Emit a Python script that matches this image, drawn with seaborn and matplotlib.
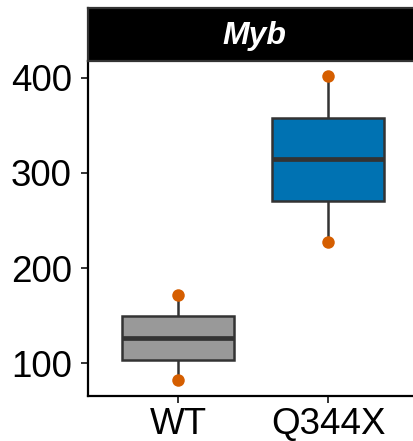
import numpy as np
import pandas as pd
import seaborn as sns
import matplotlib.pyplot as plt

sns.set_theme(style="white")
plt.rcParams['font.family'] = ['Liberation Sans', 'DejaVu Sans']

groups = ["WT", "Q344X"]
# five values per group: min, Q1, median, Q3, max
wt_values = [82, 104, 127, 149.5, 172]
q344x_values = [227, 271, 315, 358, 402]
box_colors = {"WT": "#999999", "Q344X": "#0072B2"}
point_color = "#D55E00"
panel_title = "Myb"

df = pd.DataFrame({
    "group": ["WT"] * len(wt_values) + ["Q344X"] * len(q344x_values),
    "value": wt_values + q344x_values,
})
# only the extremes are drawn as dots
ext = df.groupby("group", sort=False)["value"].agg(["min", "max"]).reset_index()
ext = ext.melt(id_vars="group", value_name="value")

fig = plt.figure(figsize=(4.14, 4.41), dpi=100)
ax = fig.add_axes([0.2133, 0.1027, 0.7964, 0.7597])

sns.boxplot(data=df, x="group", y="value", hue="group", order=groups,
            palette=box_colors, saturation=1, width=0.75, linewidth=1.8,
            linecolor="#333333", whis=1.5, fliersize=0, showcaps=False,
            legend=False, ax=ax,
            medianprops={"linewidth": 3.4, "color": "#333333"})
sns.stripplot(data=ext, x="group", y="value", order=groups, jitter=False,
              color=point_color, size=9, linewidth=0, ax=ax, zorder=5)

ax.set_xlim(-0.6, 1.6)
ax.set_ylim(66, 418)
ax.set_yticks([100, 200, 300, 400])
ax.set_xlabel("")
ax.set_ylabel("")
for side in ["top", "right"]:
    ax.spines[side].set_visible(False)
for side in ["left", "bottom"]:
    ax.spines[side].set_color("black")
    ax.spines[side].set_linewidth(1.6)
ax.tick_params(axis="both", which="both", length=5, width=1.4, color="#333333",
               labelsize=26.5, labelcolor="black")
ax.tick_params(axis="y", pad=7)
ax.tick_params(axis="x", pad=3)
ax.tick_params(left=True, bottom=True)

# facet strip
strip = fig.add_axes([0.2133, 0.8624, 0.7964, 0.1188])
strip.set_facecolor("black")
strip.set_xticks([])
strip.set_yticks([])
for s in strip.spines.values():
    s.set_color("#333333")
    s.set_linewidth(1.6)
strip.text(0.505, 0.47, panel_title, transform=strip.transAxes,
           ha="center", va="center", color="white", fontsize=23,
           fontweight="bold", fontstyle="italic")

fig.savefig("out.png", dpi=100)
